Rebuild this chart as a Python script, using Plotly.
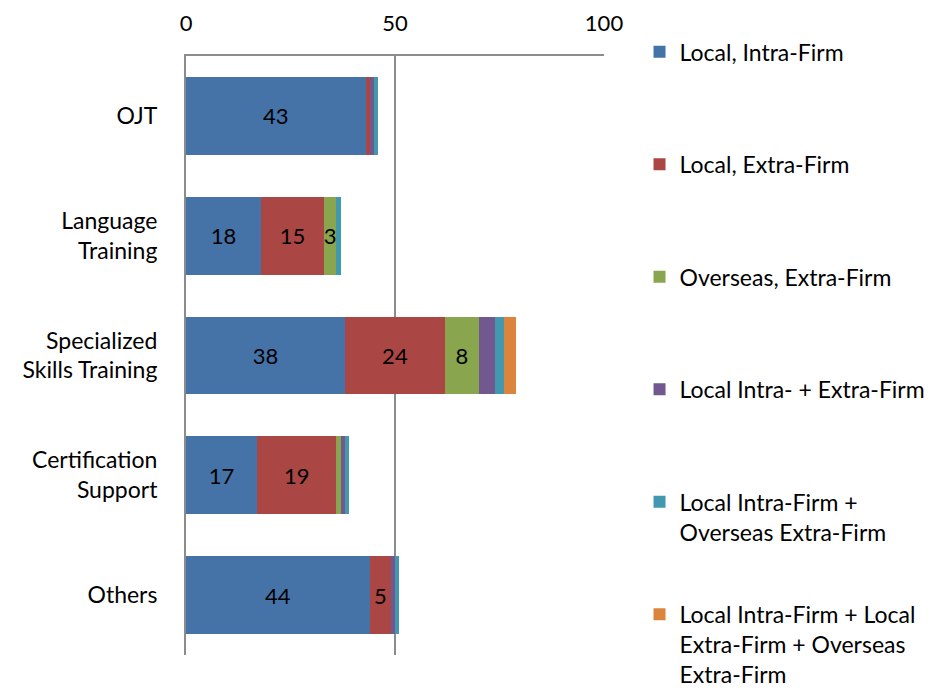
import plotly.graph_objects as go

# Training categories (top to bottom) and the share of each delivery mode
categories = ["OJT", "Language<br>Training", "Specialized<br>Skills Training",
              "Certification<br>Support", "Others"]

series_names = [
    "Local, Intra-Firm",
    "Local, Extra-Firm",
    "Overseas, Extra-Firm",
    "Local Intra- + Extra-Firm",
    "Local Intra-Firm +<br>Overseas Extra-Firm",
    "Local Intra-Firm + Local<br>Extra-Firm + Overseas<br>Extra-Firm",
]

local_intra = [43, 18, 38, 17, 44]
local_extra = [1, 15, 24, 19, 5]
overseas_extra = [0, 3, 8, 1, 0]
local_intra_extra = [1, 0, 4, 1, 1]
intra_overseas = [1, 1, 2, 1, 1]
all_three = [0, 0, 3, 0, 0]

# which segments carry a value label
labelled_local_intra = [True, True, True, True, True]
labelled_local_extra = [False, True, True, True, True]
labelled_overseas_extra = [False, True, True, False, False]
labelled_none = [False] * 5

x_ticks = [0, 50, 100]

series_values = [local_intra, local_extra, overseas_extra,
                 local_intra_extra, intra_overseas, all_three]
series_labels = [labelled_local_intra, labelled_local_extra, labelled_overseas_extra,
                 labelled_none, labelled_none, labelled_none]
colors = ["#4572A7", "#AA4643", "#89A54E", "#71588F", "#4198AF", "#DB843D"]

FONT = "Lato"
TEXT_SIZE = 23
fig = go.Figure()

legend_ids = ["legend", "legend2", "legend3", "legend4", "legend5", "legend6"]
for name, vals, lab, col, lg in zip(series_names, series_values, series_labels, colors, legend_ids):
    fig.add_trace(go.Bar(
        y=categories, x=vals, name=name, orientation="h",
        marker=dict(color=col, line=dict(width=0)),
        text=[str(v) if show else "" for v, show in zip(vals, lab)],
        textposition="inside", insidetextanchor="middle",
        constraintext="none",
        textfont=dict(family=FONT, size=22, color="black"),
        legend=lg, showlegend=True,
    ))

# one legend box per series so entries sit at an even vertical pitch
layout_legends = {}
top_y = 1.043
step = 0.1878
for i, lg in enumerate(legend_ids):
    layout_legends[lg] = dict(
        x=1.085, xanchor="left", y=top_y - i * step, yanchor="top",
        valign="top", bgcolor="rgba(0,0,0,0)",
        font=dict(family=FONT, size=TEXT_SIZE, color="black"),
        itemclick=False, itemdoubleclick=False,
    )

fig.update_layout(
    width=935, height=690,
    margin=dict(l=186, r=331, t=56, b=35, autoexpand=False),
    paper_bgcolor="white", plot_bgcolor="white",
    barmode="stack", bargap=0.35, showlegend=True,
    font=dict(family=FONT, size=TEXT_SIZE, color="black"),
    xaxis=dict(
        side="top", range=[0, 100], tickvals=x_ticks,
        showgrid=True, gridcolor="#8c8c8c", gridwidth=2,
        showline=True, linecolor="#8c8c8c", linewidth=2,
        zeroline=False, ticks="", ticklabelstandoff=14,
        tickfont=dict(family=FONT, size=22, color="black"),
    ),
    yaxis=dict(
        autorange="reversed", showgrid=False,
        showline=True, linecolor="#8c8c8c", linewidth=2,
        ticks="", ticklabelstandoff=22,
        tickfont=dict(family=FONT, size=TEXT_SIZE, color="black"),
    ),
    **layout_legends,
)

fig.write_html("out.html")
